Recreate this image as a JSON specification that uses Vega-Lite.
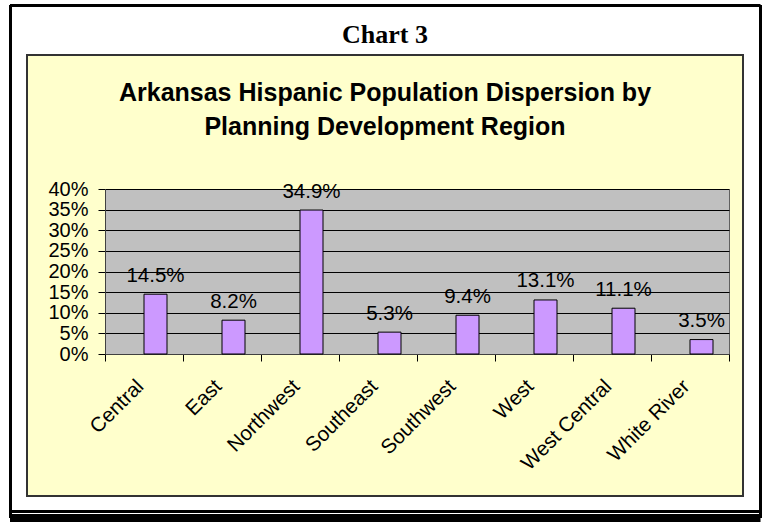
{
  "$schema": "https://vega.github.io/schema/vega-lite/v6.json",
  "width": 716,
  "height": 441,
  "autosize": {"type": "none"},
  "padding": {"left": 27, "top": 55, "right": 19, "bottom": 26},
  "background": "#FFFFFF",
  "data": {
    "values": [
      {"region": "Central", "share": 0.145},
      {"region": "East", "share": 0.082},
      {"region": "Northwest", "share": 0.349},
      {"region": "Southeast", "share": 0.053},
      {"region": "Southwest", "share": 0.094},
      {"region": "West", "share": 0.131},
      {"region": "West Central", "share": 0.111},
      {"region": "White River", "share": 0.035}
    ]
  },
  "title": {
    "text": "Chart 3",
    "subtitle": ["Arkansas Hispanic Population Dispersion by", "Planning Development Region"],
    "frame": "group",
    "anchor": "middle",
    "offset": -85,
    "font": "Liberation Serif",
    "fontSize": 26,
    "fontWeight": "bold",
    "color": "#000000",
    "subtitleFont": "Liberation Sans",
    "subtitleFontSize": 25,
    "subtitleFontWeight": "bold",
    "subtitleColor": "#000000",
    "subtitleLineHeight": 34,
    "subtitlePadding": 33
  },
  "layer": [
    {
      "resolve": {"axis": {"x": "independent"}},
      "encoding": {
        "y": {
          "field": "share",
          "type": "quantitative",
          "scale": {"domain": [0, 0.4], "range": [299, 134], "nice": false, "zero": false},
          "axis": {
            "orient": "left",
            "offset": -78,
            "title": null,
            "values": [0, 0.05, 0.1, 0.15, 0.2, 0.25, 0.3, 0.35, 0.4],
            "format": ".0%",
            "grid": true,
            "gridColor": "#000000",
            "gridWidth": 1,
            "gridOpacity": 1,
            "domain": true,
            "domainColor": "#404040",
            "domainWidth": 1,
            "ticks": true,
            "tickSize": 7,
            "tickColor": "#000000",
            "labelFont": "Liberation Sans",
            "labelFontSize": 20,
            "labelColor": "#000000",
            "labelPadding": 10,
            "labelOverlap": false,
            "labelBound": false,
            "labelFlush": false
          }
        }
      },
      "layer": [
        {
          "mark": {"type": "bar", "width": 23, "xOffset": 11.5, "fill": "#CC99FF", "stroke": "#000000", "strokeWidth": 1},
          "encoding": {
            "x": {
              "field": "region",
              "type": "nominal",
              "sort": null,
              "scale": {"range": [78, 702], "paddingInner": 0, "paddingOuter": 0},
              "axis": {
                "orient": "bottom",
                "offset": -142,
                "title": null,
                "tickBand": "extent",
                "ticks": true,
                "tickSize": 7,
                "tickColor": "#000000",
                "tickWidth": 1,
                "domain": true,
                "domainColor": "#404040",
                "domainWidth": 1,
                "labelAngle": -45,
                "labelAlign": "right",
                "labelBaseline": "middle",
                "labelPadding": 22,
                "labelOffset": -4,
                "labelFont": "Liberation Sans",
                "labelFontSize": 20.5,
                "labelColor": "#000000",
                "labelOverlap": false,
                "labelBound": false,
                "labelFlush": false,
                "labelLimit": 0,
                "grid": false
              }
            }
          }
        },
        {
          "mark": {"type": "text", "xOffset": 11.5, "dy": -12.5, "baseline": "alphabetic", "align": "center", "font": "Liberation Sans", "fontSize": 20.5, "color": "#000000"},
          "encoding": {
            "x": {
              "field": "region",
              "type": "nominal",
              "sort": null,
              "scale": {"range": [78, 702], "paddingInner": 0, "paddingOuter": 0},
              "axis": {
                "orient": "top",
                "title": null,
                "tickBand": "extent",
                "ticks": false,
                "domain": false,
                "labels": false,
                "grid": true,
                "gridColor": {"condition": {"test": "datum.value === 'Southeast'", "value": "#C0C0C0"}, "value": "#606060"},
                "gridWidth": {"condition": {"test": "datum.value === 'Southeast'", "value": 624}, "value": 1},
                "gridOpacity": {"condition": {"test": "datum.value === 'Southeast' || datum.value === 'White River'", "value": 1}, "value": 0}
              }
            },
            "text": {"field": "share", "type": "quantitative", "format": ".1%"}
          }
        }
      ]
    },
    {
      "mark": {"type": "point", "opacity": 0},
      "encoding": {
        "x": {
          "datum": 0.5,
          "type": "quantitative",
          "scale": {"domain": [0, 1], "range": [-17.5, 733], "nice": false, "zero": false},
          "axis": {"orient": "top", "values": [0, 1], "grid": true, "gridColor": "#000000", "gridWidth": 3, "gridOpacity": 1, "domain": false, "ticks": false, "labels": false, "title": null}
        },
        "y": {
          "datum": 0.5,
          "type": "quantitative",
          "scale": {"domain": [0, 1], "range": [462.5, -50.5], "nice": false, "zero": false},
          "axis": {"orient": "left", "values": [0, 0.013645, 1], "grid": true, "gridColor": "#000000", "gridWidth": {"condition": {"test": "datum.value === 0", "value": 9}, "value": 3}, "gridOpacity": 1, "domain": false, "ticks": false, "labels": false, "title": null}
        }
      }
    }
  ],
  "resolve": {"scale": {"x": "independent", "y": "independent"}},
  "config": {"view": {"fill": "#FFFFCC", "stroke": "#333333", "strokeWidth": 2}}
}
